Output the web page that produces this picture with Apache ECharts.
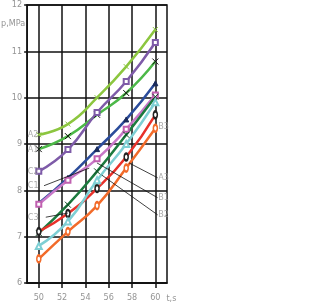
<!DOCTYPE html>
<html><head><meta charset="utf-8">
<script src="https://cdn.jsdelivr.net/npm/echarts@6/dist/echarts.min.js"></script>
<style>html,body{margin:0;padding:0;background:#fff}#c{width:336px;height:308px}</style>
</head><body><div id="c"></div>
<script>
// ---- data ----
const tValues = [50, 52.5, 55, 57.5, 60];
const xTickLabels = [50, 52, 54, 56, 58, 60];
const yTickLabels = [6, 7, 8, 9, 10, 11, 12];
const seriesNames = ['A2', 'A1', 'C2', 'C1', 'B1', 'C3', 'A3', 'B2', 'B3'];
const A2 = [9.20, 9.43, 10.00, 10.67, 11.47];
const A1 = [8.89, 9.17, 9.63, 10.10, 10.78];
const C2 = [8.41, 8.88, 9.68, 10.35, 11.19];
const C1 = [7.72, 8.27, 8.89, 9.53, 10.31];
const B1 = [7.70, 8.22, 8.68, 9.32, 10.06];
const C3 = [7.08, 7.69, 8.41, 9.20, 10.02];
const A3 = [7.11, 7.50, 8.04, 8.72, 9.63];
const B2 = [6.80, 7.33, 8.22, 9.00, 9.90];
const B3 = [6.52, 7.11, 7.67, 8.48, 9.34];

// ---- styles ----
const xPath = 'path://M0,0L10,10M10,0L0,10';
const styleMap = {
  A2: {color: '#8cc63f', symbol: xPath, size: 5, mColor: '#8cc63f'},
  A1: {color: '#4cb848', symbol: xPath, size: 6, mColor: '#111'},
  C2: {color: '#7e5ba8', symbol: 'emptyRect', size: 5, mColor: '#7e5ba8'},
  C1: {color: '#2b4c9b', symbol: 'triangle', size: 5, mColor: '#1a2a5a'},
  B1: {color: '#c878c8', symbol: 'emptyRect', size: 5, mColor: '#c060b0'},
  C3: {color: '#1c7a3e', symbol: xPath, size: 6, mColor: '#0d4a22'},
  A3: {color: '#e8312a', symbol: 'emptyCircle', size: [4, 7], mColor: '#222'},
  B2: {color: '#7ecfd4', symbol: 'emptyTriangle', size: 6, mColor: '#7ecfd4'},
  B3: {color: '#f26b2a', symbol: 'emptyCircle', size: [4, 7], mColor: '#f26b2a'}
};
const valuesByName = {A2, A1, C2, C1, B1, C3, A3, B2, B3};
const textColor = '#959595';
const font = "'Liberation Sans Narrow','DejaVu Sans Condensed','Noto Sans',sans-serif";

const lineSeries = seriesNames.map(n => {
  const s = styleMap[n];
  return {
    name: n, type: 'line', smooth: true,
    data: tValues.map((t, i) => [t, valuesByName[n][i]]),
    symbol: s.symbol, symbolSize: s.size, showSymbol: true,
    lineStyle: {color: s.color, width: 2.5},
    itemStyle: {color: s.mColor, borderColor: s.mColor, borderWidth: 1},
    z: 3
  };
});

// annotation labels (data coordinates)
const labelPoints = [
  [49.05, 9.21, 'A2'], [49.05, 8.87, 'A1'], [49.05, 8.40, 'C2'],
  [49.05, 8.10, 'C1'], [49.05, 7.42, 'C3'],
  [60.25, 9.37, 'B3'], [60.25, 8.27, 'A3'], [60.25, 7.84, 'B1'], [60.25, 7.47, 'B2']
];
const leaders = [
  [[50.45, 8.10], [54.33, 8.48]],
  [[50.6, 7.42], [52.5, 7.51]],
  [[57.75, 8.59], [60.2, 8.27]],
  [[55.0, 8.59], [60.2, 7.84]],
  [[55.4, 8.33], [60.2, 7.47]]
];

const option = {
  animation: false,
  backgroundColor: '#fff',
  grid: {left: 22, right: 169, top: 5, bottom: 25, show: true, borderColor: '#111', borderWidth: 1.5},
  xAxis: {
    type: 'value', min: 49, max: 61,
    name: 't,s', nameLocation: 'end', nameGap: -5,
    nameTextStyle: {color: textColor, fontSize: 9, fontFamily: font, verticalAlign: 'top', padding: [11, 0, 0, 0]},
    axisLine: {show: true, lineStyle: {color: '#111', width: 1.5}},
    axisTick: {show: true, length: 5, customValues: xTickLabels, lineStyle: {color: '#111', width: 1.5}},
    axisLabel: {customValues: xTickLabels, color: textColor, fontSize: 9, fontFamily: font, margin: 10},
    splitLine: {show: true, lineStyle: {color: '#111', width: 1.5}}
  },
  yAxis: {
    type: 'value', min: 6, max: 12, interval: 1,
    name: 'p,MPa', nameLocation: 'end', nameGap: -19,
    nameTextStyle: {color: textColor, fontSize: 9, fontFamily: font, align: 'right', verticalAlign: 'middle', padding: [0, 2, 0, 0]},
    axisLine: {show: true, lineStyle: {color: '#111', width: 1.5}},
    axisTick: {show: true, length: 3, lineStyle: {color: '#111', width: 1.5}},
    axisLabel: {color: textColor, fontSize: 9, fontFamily: font, margin: 5,
      formatter: v => yTickLabels.includes(v) ? String(v) : ''},
    splitLine: {show: true, lineStyle: {color: '#111', width: 1.5}}
  },
  series: lineSeries.concat([
    {
      type: 'lines', coordinateSystem: 'cartesian2d', z: 4,
      lineStyle: {color: '#111', width: 0.8, opacity: 1},
      data: leaders.map(c => ({coords: c})), silent: true
    },
    {
      type: 'scatter', symbolSize: 0, z: 5, silent: true,
      data: labelPoints,
      label: {show: true, position: 'right', distance: 0, color: textColor, fontSize: 9, fontFamily: font,
        formatter: p => p.data[2]}
    }
  ])
};
const chart = echarts.init(document.getElementById('c'), null, {renderer: 'canvas'});
chart.setOption(option);
</script>
</body></html>
